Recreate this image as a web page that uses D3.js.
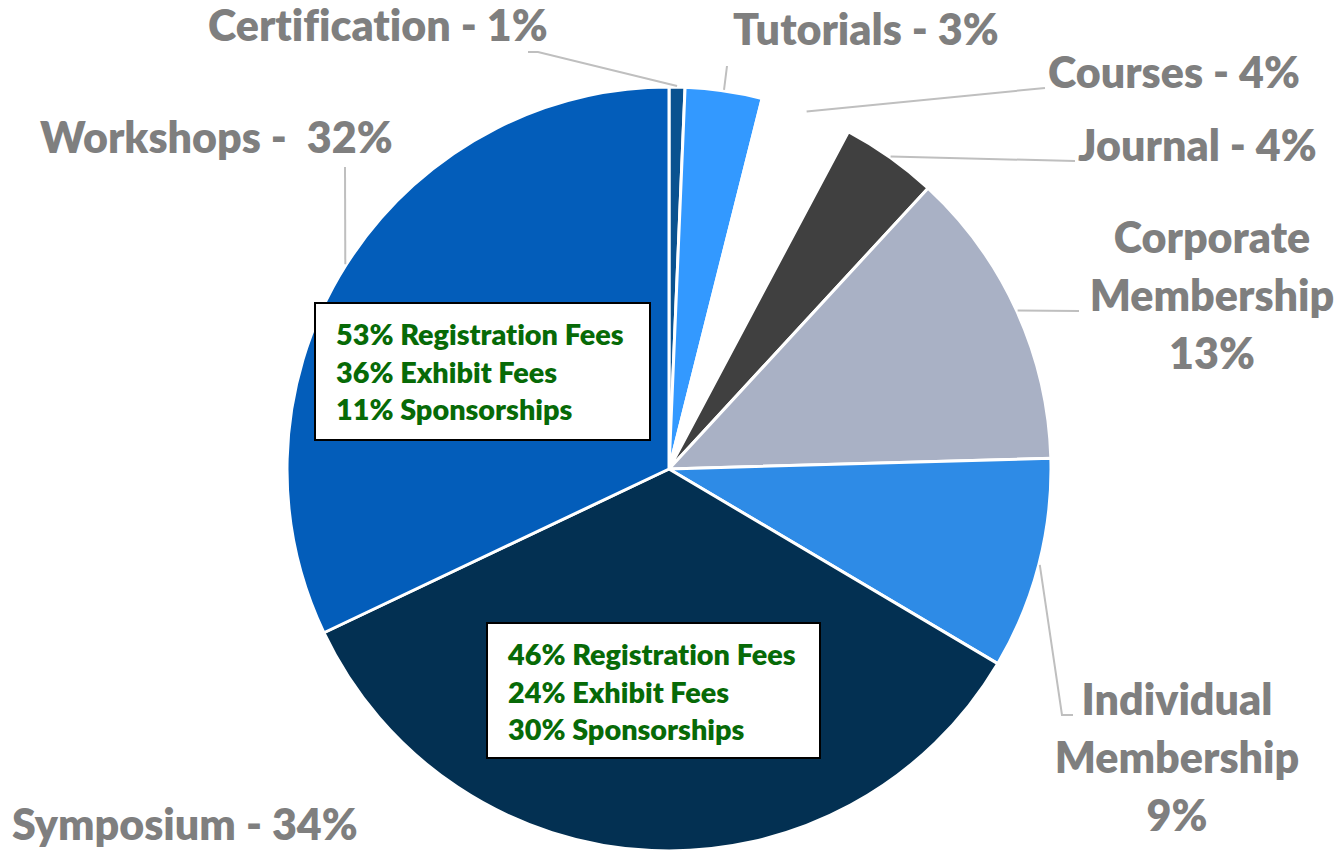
<!DOCTYPE html>
<html>
<head>
<meta charset="utf-8">
<script src="https://cdn.jsdelivr.net/npm/d3@7"></script>
<style>
  body { margin: 0; background: #fff; }
  text { font-variant-ligatures: none; }
</style>
</head>
<body>
<div id="chart"></div>
<script>
// slices, clockwise from 12 o'clock
const categories = ["Certification", "Tutorials", "Courses", "Journal",
  "Corporate Membership", "Individual Membership", "Symposium", "Workshops"];
const shares = [0.67, 3.25, 3.86, 4.08, 12.69, 8.96, 34.44, 32.05];
const labelLines = [
  ["Certification - 1%"],
  ["Tutorials - 3%"],
  ["Courses - 4%"],
  ["Journal - 4%"],
  ["Corporate", "Membership", "13%"],
  ["Individual", "Membership", "9%"],
  ["Symposium - 34%"],
  ["Workshops -  32%"]
];
const workshopSplit = ["53% Registration Fees", "36% Exhibit Fees", "11% Sponsorships"];
const symposiumSplit = ["46% Registration Fees", "24% Exhibit Fees", "30% Sponsorships"];

const colors = ["#0A5290", "#3399FF", "#FFFFFF", "#404040",
  "#A9B1C5", "#2E8BE6", "#033052", "#035DBA"];

const width = 1341, height = 851;
const cx = 669, cy = 469, radius = 382;

// label placement + leader elbows
const labelPos = [
  { x: 208, y: 41, anchor: "start", leader: [[538, 52], [528, 52]] },
  { x: 733, y: 45, anchor: "start", leader: [[727, 66]] },
  { x: 1048, y: 88, anchor: "start", leader: [[1045, 88]] },
  { x: 1078, y: 161, anchor: "start", leader: [[1075, 161]] },
  { x: 1212, y: 253, anchor: "middle", leader: [[1079, 311]] },
  { x: 1177, y: 715, anchor: "middle", leader: [[1062, 715], [1073, 715]] },
  { x: 12, y: 840, anchor: "start", leader: [] },
  { x: 40, y: 153, anchor: "start", leader: [[345, 167]] }
];

const svg = d3.select("#chart")
  .append("svg")
  .attr("width", width)
  .attr("height", height);

const g = svg.append("g")
  .attr("transform", `translate(${cx},${cy})`);

const pie = d3.pie().sort(null).value(d => d);
const arcs = pie(shares);

const arc = d3.arc().innerRadius(0).outerRadius(radius);
const edge = d3.arc().innerRadius(radius + 1).outerRadius(radius + 1);

// slices
g.selectAll("path.slice")
  .data(arcs)
  .enter()
  .append("path")
  .attr("class", "slice")
  .attr("d", arc)
  .attr("fill", (d, i) => colors[i])
  .attr("stroke", "#fff")
  .attr("stroke-width", 3)
  .attr("stroke-linejoin", "round");

// leader lines
const line = d3.line();
arcs.forEach((d, i) => {
  const lp = labelPos[i];
  if (!lp.leader.length) return;
  const [ex, ey] = edge.centroid(d);
  const pts = [[cx + ex, cy + ey]].concat(lp.leader);
  svg.append("path")
    .attr("d", line(pts))
    .attr("fill", "none")
    .attr("stroke", "#BFBFBF")
    .attr("stroke-width", 2);
});

// labels
arcs.forEach((d, i) => {
  const lp = labelPos[i];
  const t = svg.append("text")
    .attr("x", lp.x)
    .attr("y", lp.y)
    .attr("text-anchor", lp.anchor)
    .attr("font-family", "Lato, 'Open Sans', sans-serif")
    .attr("font-weight", 800)
    .attr("font-size", "43px")
    .attr("fill", "#7F7F7F")
    .style("white-space", "pre");
  labelLines[i].forEach((s, k) => {
    t.append("tspan")
      .attr("x", lp.x)
      .attr("dy", k === 0 ? 0 : 58)
      .text(s);
  });
});

// breakdown boxes
function box(x, y, w, h, rows) {
  svg.append("rect")
    .attr("x", x).attr("y", y)
    .attr("width", w).attr("height", h)
    .attr("fill", "#fff")
    .attr("stroke", "#000")
    .attr("stroke-width", 2);
  rows.forEach((s, k) => {
    svg.append("text")
      .attr("x", x + 21)
      .attr("y", y + 42 + k * 37.5)
      .attr("font-family", "Lato, 'Open Sans', sans-serif")
      .attr("font-weight", 800)
      .attr("font-size", "28.8px")
      .attr("fill", "#076A07")
      .text(s);
  });
}
box(315, 303, 335, 137, workshopSplit);
box(487, 623, 333, 135, symposiumSplit);
</script>
</body>
</html>
